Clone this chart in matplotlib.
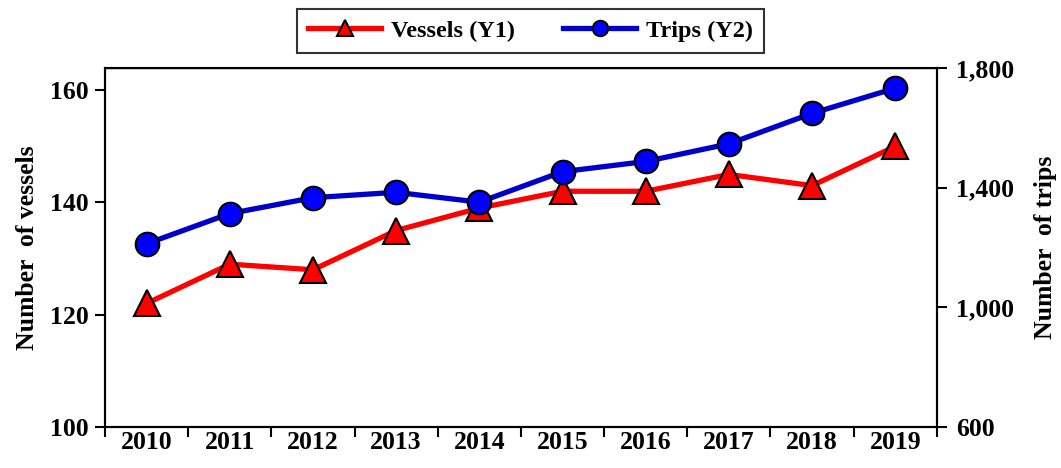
import matplotlib.pyplot as plt
from matplotlib.ticker import FuncFormatter

years = ["2010", "2011", "2012", "2013", "2014", "2015", "2016", "2017", "2018", "2019"]
vessels = [122, 129, 128, 135, 139, 142, 142, 145, 143, 150]
trips = [1212, 1313, 1366, 1384, 1351, 1453, 1487, 1546, 1648, 1732]

plt.rcParams["font.family"] = ["Liberation Serif", "DejaVu Serif"]
plt.rcParams["font.weight"] = "bold"

fig = plt.figure(figsize=(10.61, 4.68), dpi=100)
ax = fig.add_axes([0.099, 0.088, 0.784, 0.767])
ax2 = ax.twinx()

x = list(range(len(years)))

l1, = ax.plot(x, vessels, color="#ff0000", lw=3.8, marker="^", ms=18.5,
              markerfacecolor="#ff0000", markeredgecolor="black", markeredgewidth=1.5,
              label="Vessels (Y1)")
l2, = ax2.plot(x, trips, color="#0000cc", lw=3.8, marker="o", ms=17,
               markerfacecolor="#0000ff", markeredgecolor="black", markeredgewidth=1.5,
               label="Trips (Y2)")

ax.set_xlim(-0.5, len(years) - 0.5)
ax.set_ylim(100, 164)
ax.set_yticks([100, 120, 140, 160])
ax2.set_ylim(600, 1800)
ax2.set_yticks([600, 1000, 1400, 1800])
ax2.yaxis.set_major_formatter(FuncFormatter(lambda v, p: f"{int(v):,}"))

fs = 18.5

# category labels between boundary ticks
ax.set_xticks([i - 0.5 for i in range(len(years) + 1)])
ax.set_xticklabels([])
ax.set_xticks(x, minor=True)
ax.set_xticklabels(years, minor=True)
ax.tick_params(axis="x", which="minor", length=0, pad=3, labelsize=fs)
ax.tick_params(axis="x", which="major", length=7, width=1.5, direction="out")
ax.tick_params(axis="y", length=7, width=1.5, labelsize=fs, pad=5)
ax2.tick_params(axis="y", length=7, width=1.5, labelsize=fs, pad=7)

for a in (ax, ax2):
    for s in a.spines.values():
        s.set_linewidth(1.5)
ax.spines["top"].set_linewidth(1.0)

ax.set_ylabel("Number  of vessels", fontsize=fs, fontweight="bold", labelpad=8)
ax2.set_ylabel("Number  of trips", fontsize=fs, fontweight="bold", labelpad=14)

leg = fig.legend(handles=[l1, l2], loc="center", bbox_to_anchor=(0.500, 0.934),
                 ncol=2, fontsize=fs - 1, frameon=True, fancybox=False,
                 edgecolor="black", handlelength=3.0, markerscale=0.65,
                 columnspacing=2.0, borderpad=0.45, handletextpad=0.4,
                 borderaxespad=0.3)
leg.get_frame().set_linewidth(1.5)

fig.savefig("out.png", dpi=100)
